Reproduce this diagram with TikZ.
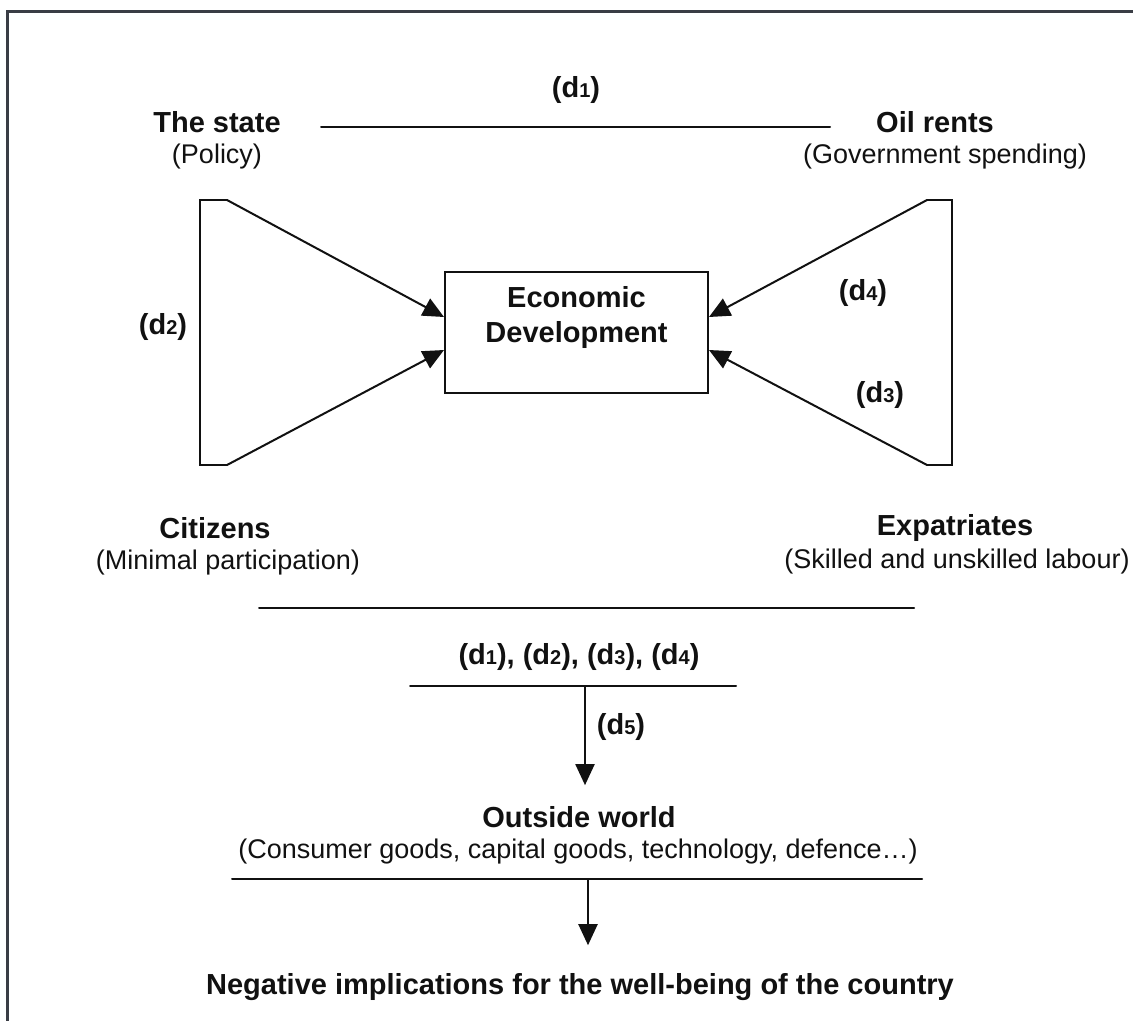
\documentclass[tikz,border=0pt]{standalone}
\usepackage{fontspec}
\setmainfont{Liberation Sans}
\usetikzlibrary{arrows.meta,calc}
\definecolor{ink}{HTML}{111111}
\definecolor{framec}{HTML}{3A3D45}
\newcommand{\dsub}[1]{d{\fontsize{20}{20}\selectfont #1}}

\begin{document}
\begin{tikzpicture}[
  x=1pt, y=-1pt,
  lab/.style={font=\fontsize{27}{35}\selectfont, inner sep=0pt, text=ink},
  head/.style={font=\bfseries\fontsize{29}{35}\selectfont, inner sep=0pt, text=ink},
  rule/.style={draw=ink, line width=2pt, line cap=round, line join=miter},
  flow/.style={draw=ink, line width=2pt, line cap=round, -{Triangle[length=21pt,width=19pt]}},
  devbox/.style={draw=ink, line width=2pt, minimum width=263pt, minimum height=121pt, inner sep=0pt}
]
\useasboundingbox (0,0) rectangle (1133,1021);

% Frame (top and left edges)
\draw[draw=framec, line width=3pt] (1133,11) -- (7,11) -- (7,1021);

% Top row: state and oil rents
\node[head] (dA) at (576,90) {(\dsub{1})};
\node[head] (state) at (217,122) {The state};
\node[lab] (policy) at (217,157) {(Policy)};
\node[head] (oil) at (935,122) {Oil rents};
\node[lab] (spend) at (945,157) {(Government spending)};
\coordinate (topL) at (321,127);
\coordinate (topR) at (830,127);
\draw[rule] (topL) -- (topR);

% Centre box
\node[devbox] (dev) at (576.5,332.5) {};
\node[head, align=center] (devtxt) at (576.5,317) {Economic\\Development};

% Left funnel
\coordinate (lt) at (227,200);
\coordinate (lb) at (227,465);
\draw[rule] (lt) -- (200,200) -- (200,465) -- (lb);
\draw[flow] (lt) -- ($(dev.west)+(0,-15.5)$);
\draw[flow] (lb) -- ($(dev.west)+(0,17.5)$);
\node[head] (dB) at (163,327) {(\dsub{2})};

% Right funnel
\coordinate (rt) at (927,200);
\coordinate (rb) at (927,465);
\draw[rule] (rt) -- (952,200) -- (952,465) -- (rb);
\draw[flow] (rt) -- ($(dev.east)+(0,-15.5)$);
\draw[flow] (rb) -- ($(dev.east)+(0,17.5)$);
\node[head] (dD) at (863,293) {(\dsub{4})};
\node[head] (dC) at (880,395) {(\dsub{3})};

% Bottom row: citizens and expatriates
\node[head] (citiz) at (215,528) {Citizens};
\node[lab] (minim) at (228,563) {(Minimal participation)};
\node[head] (expat) at (955,528) {Expatriates};
\node[lab] (skill) at (957,562) {(Skilled and unskilled labour)};

% Summary lines
\coordinate (m1L) at (259,608);
\coordinate (m1R) at (914,608);
\draw[rule] (m1L) -- (m1R);
\node[head] (dall) at (579,657) {(\dsub{1}), (\dsub{2}), (\dsub{3}), (\dsub{4})};
\coordinate (m2L) at (410,686);
\coordinate (m2R) at (736,686);
\coordinate (m2M) at (585,686);
\draw[rule] (m2L) -- (m2R);
\node[head] (dE) at (621,727) {(\dsub{5})};

% Outside world
\node[head] (world) at (579,817) {Outside world};
\node[lab] (goods) at (578,852) {(Consumer goods, capital goods, technology, defence…)};
\draw[flow, shorten >=21pt] (m2M) -- (m2M |- world.north);
\coordinate (m3L) at (232,879);
\coordinate (m3R) at (922,879);
\coordinate (m3M) at (588,879);
\draw[rule] (m3L) -- (m3R);

% Outcome
\node[head] (neg) at (580,987) {Negative implications for the well-being of the country};
\draw[flow, shorten >=28pt] (m3M) -- (m3M |- neg.north);

\end{tikzpicture}
\end{document}
